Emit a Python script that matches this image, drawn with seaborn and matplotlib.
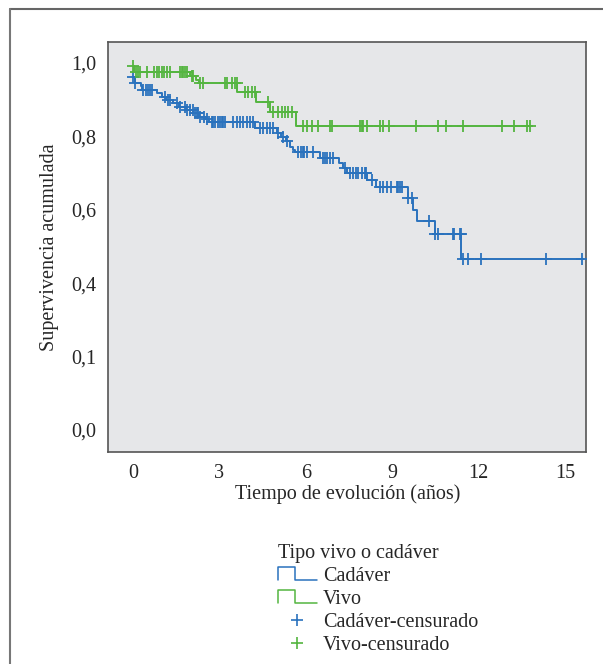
import numpy as np
import matplotlib
matplotlib.use("Agg")
import matplotlib.pyplot as plt
from matplotlib.lines import Line2D
from matplotlib.legend_handler import HandlerBase
import seaborn as sns

# Kaplan-Meier steps (time in years, survival after each event)
cad_t = [0.0, 0.07, 0.28, 0.33, 0.85, 1.0, 1.15, 1.4, 1.6, 1.85, 2.1, 2.3, 2.5, 2.65,
         4.24, 4.99, 5.15, 5.3, 5.45, 5.55, 5.63, 6.5, 7.16, 7.3, 7.45, 8.14, 8.45,
         9.54, 9.71, 9.85, 10.49, 11.39]
cad_s = [0.961, 0.946, 0.936, 0.926, 0.917, 0.908, 0.899, 0.890, 0.881, 0.872, 0.863,
         0.854, 0.847, 0.840, 0.822, 0.810, 0.798, 0.786, 0.772, 0.763, 0.756, 0.742,
         0.728, 0.713, 0.699, 0.680, 0.661, 0.633, 0.599, 0.569, 0.534, 0.467]
cad_end = 15.62

vivo_t = [0.0, 0.05, 1.98, 2.2, 2.3, 3.62, 4.27, 4.76, 5.66]
vivo_s = [0.992, 0.975, 0.964, 0.954, 0.945, 0.922, 0.893, 0.866, 0.829]
vivo_end = 13.8

# censored observations (time in years)
cad_cens = [0.0, 0.08, 0.36, 0.45, 0.53, 0.59, 0.65, 1.11, 1.23, 1.28, 1.52, 1.63, 1.81,
            1.89, 1.98, 2.07, 2.15, 2.21, 2.27, 2.33, 2.45, 2.56, 2.73, 2.79, 2.85, 2.96,
            3.02, 3.08, 3.14, 3.19, 3.48, 3.6, 3.72, 3.83, 3.95, 4.07, 4.18, 4.41, 4.52,
            4.64, 4.76, 4.87, 5.05, 5.2, 5.35, 5.74, 5.82, 5.89, 5.94, 6.03, 6.24, 6.61,
            6.67, 6.73, 6.84, 6.93, 7.36, 7.53, 7.65, 7.74, 7.82, 7.94, 8.06, 8.11, 8.29,
            8.58, 8.69, 8.83, 8.95, 9.16, 9.21, 9.27, 9.36, 9.56, 9.68, 10.29, 10.49,
            10.6, 11.1, 11.16, 11.35, 11.38, 11.45, 11.64, 12.08, 14.36, 15.6]
vivo_cens = [0.0, 0.10, 0.18, 0.24, 0.47, 0.73, 0.82, 0.91, 1.01, 1.08, 1.17, 1.28, 1.63,
             1.69, 1.75, 1.81, 1.86, 2.05, 2.1, 2.33, 2.44, 3.19, 3.25, 3.43, 3.54, 3.6,
             3.89, 4.0, 4.12, 4.24, 4.7, 4.87, 5.05, 5.16, 5.28, 5.39, 5.51, 5.89, 6.05,
             6.2, 6.43, 6.84, 6.9, 7.88, 7.94, 8.0, 8.14, 8.58, 8.69, 8.9, 9.83, 10.6,
             10.87, 11.45, 12.8, 13.24, 13.69, 13.78]

y_ticks = [0.0, 0.2, 0.4, 0.6, 0.8, 1.0]
y_labels = ["0,0", "0,1", "0,4", "0,6", "0,8", "1,0"]
x_ticks = [0, 3, 6, 9, 12, 15]

BLUE = "#2a72bd"
GREEN = "#54b540"

sns.set_style("white")
plt.rcParams["font.family"] = ["Liberation Serif", "DejaVu Serif"]


def step_at(times, surv, t):
    idx = np.searchsorted(times, t, side="right") - 1
    return np.asarray(surv)[np.clip(idx, 0, len(surv) - 1)]


class StepHandler(HandlerBase):
    # legend key drawn as a small step: up, across, down, across
    def create_artists(self, legend, orig_handle, xdescent, ydescent,
                       width, height, fontsize, trans):
        x0, y0 = -xdescent, -ydescent
        y1 = y0 + height
        xm = x0 + width * 0.45
        line = Line2D([x0, x0, xm, xm, x0 + width], [y0, y1, y1, y0, y0],
                      color=orig_handle.get_color(), lw=1.1, transform=trans)
        return [line]


fig = plt.figure(figsize=(6.03, 6.64), dpi=100)
ax = fig.add_axes([0.179, 0.3193, 0.7936, 0.618])
ax.set_facecolor("#e6e7e9")

curves = [(cad_t, cad_s, cad_end, cad_cens, BLUE),
          (vivo_t, vivo_s, vivo_end, vivo_cens, GREEN)]
for times, surv, t_end, cens, col in curves:
    xs = list(times) + [t_end]
    ys = list(surv) + [surv[-1]]
    sns.lineplot(x=xs, y=ys, drawstyle="steps-post", estimator=None, sort=False,
                 color=col, lw=1.4, ax=ax)
    sns.scatterplot(x=cens, y=step_at(times, surv, cens), marker="+", s=65,
                    color=col, linewidth=1.3, ax=ax, zorder=3)

ax.set_xlim(-0.87, 15.75)
ax.set_ylim(-0.06, 1.058)
ax.set_xticks(x_ticks)
ax.set_yticks(y_ticks)
ax.set_yticklabels(y_labels)
ax.tick_params(direction="out", length=5.5, width=1, color="#333333",
               labelsize=14.5, pad=3)
for sp in ax.spines.values():
    sp.set_color("#555555")
    sp.set_linewidth(1.2)
ax.set_xlabel("Tiempo de evolución (años)", fontsize=14.5, labelpad=1)
ax.set_ylabel("Supervivencia acumulada", fontsize=14.5, labelpad=9)

handles = [Line2D([], [], color=BLUE), Line2D([], [], color=GREEN),
           Line2D([], [], color=BLUE, marker="+", ls="", markersize=9, mew=1.2),
           Line2D([], [], color=GREEN, marker="+", ls="", markersize=9, mew=1.2)]
labels = ["Cadáver", "Vivo", "Cadáver-censurado", "Vivo-censurado"]
leg = fig.legend(handles, labels, title="Tipo vivo o cadáver", loc="upper left",
                 bbox_to_anchor=(0.447, 0.193), frameon=False, fontsize=14.5,
                 title_fontsize=14.5, alignment="left", handlelength=1.95,
                 handleheight=0.6, handletextpad=0.3, labelspacing=0.2,
                 borderaxespad=0,
                 handler_map={handles[0]: StepHandler(), handles[1]: StepHandler()})

# outer frame (top and left edges)
fig.add_artist(Line2D([10 / 603, 1], [1 - 9 / 664, 1 - 9 / 664],
                      transform=fig.transFigure, color="#666666", lw=1.5))
fig.add_artist(Line2D([10 / 603, 10 / 603], [0, 1 - 9 / 664],
                      transform=fig.transFigure, color="#777777", lw=1.5))

fig.savefig("out.png", dpi=100)
